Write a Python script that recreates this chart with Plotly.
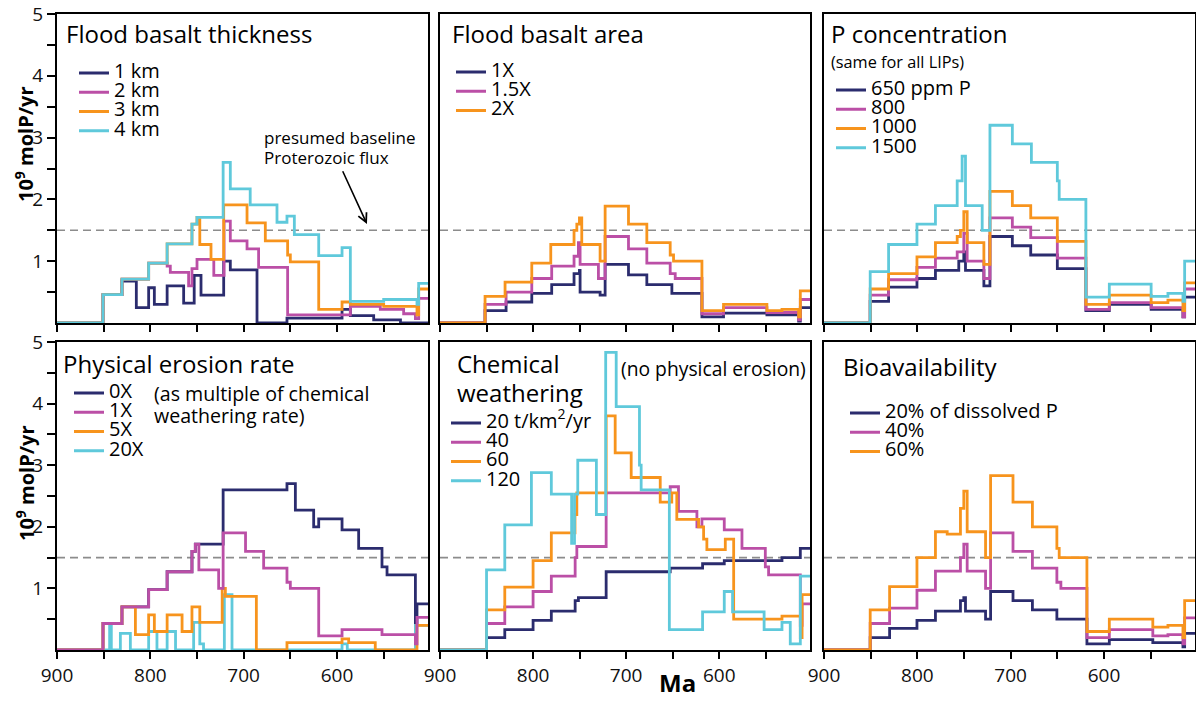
import plotly.graph_objects as go

# ---------------- data (Ma breakpoints, step values in 10^9 molP/yr) ----------------
BASELINE_FLUX = 1.5

# Panel 1: Flood basalt thickness
THK_LABELS = ["1 km", "2 km", "3 km", "4 km"]
THK_1_MA = [900, 850.7, 830.4, 815, 801.8, 795.7, 782, 764.3, 753, 745.7, 721.4, 714.3, 685.7, 653.6, 594.6, 585.7, 560.7, 532, 502.5]
THK_1_V = [0, 0.46, 0.68, 0.25, 0.57, 0.3, 0.6, 0.32, 0.77, 0.45, 1.0, 0.86, 0, 0.08, 0.22, 0.12, 0.05, 0, 0]
THK_2_MA = [900, 850.7, 830.4, 801.8, 782, 778.6, 759, 755.4, 750, 732, 721, 714.3, 696.4, 684, 652.9, 585.7, 553.6, 528.6, 516, 512.5, 502.5]
THK_2_V = [0, 0.46, 0.71, 0.97, 0.92, 0.82, 0.6, 0.88, 1.03, 0.77, 1.65, 1.33, 1.2, 0.9, 0.13, 0.27, 0.22, 0.15, 0.07, 0.4, 0.4]
THK_3_MA = [900, 850.7, 830.4, 801.8, 782, 755.4, 750, 747, 735, 721.4, 696.4, 676.8, 652.9, 650, 619.6, 594.6, 585.7, 550, 514.3, 512.5, 502.5]
THK_3_V = [0, 0.46, 0.71, 0.97, 1.28, 1.6, 1.71, 1.27, 1.03, 1.91, 1.62, 1.33, 1.1, 0.99, 0.22, 0.34, 0.3, 0.27, 0.13, 0.55, 0.55]
THK_4_MA = [900, 850.7, 830.4, 801.8, 782, 755.4, 750, 722, 714.3, 693, 664.3, 653.6, 645.7, 619.6, 594.6, 585.7, 550, 514.3, 512.5, 502.5]
THK_4_V = [0, 0.46, 0.71, 0.97, 1.28, 1.6, 1.71, 2.6, 2.17, 1.91, 1.63, 1.73, 1.43, 1.09, 1.22, 0.35, 0.38, 0.3, 0.64, 0.64]

# Panel 2: Flood basalt area
AREA_LABELS = ["1X", "1.5X", "2X"]
AREA_1_MA = [900, 851.6, 829, 801.4, 780, 756, 750.2, 749.5, 728, 722.6, 697.5, 677.8, 650.9, 618.6, 595.4, 548.8, 514.7, 512.9, 502.5]
AREA_1_V = [0, 0.2, 0.34, 0.48, 0.62, 0.8, 0.85, 0.5, 0.45, 0.95, 0.78, 0.62, 0.48, 0.1, 0.16, 0.13, 0.03, 0.25, 0.25]
AREA_15_MA = [900, 851.6, 829, 801.4, 780, 756, 751.3, 749.5, 729.8, 722.6, 697.5, 677.8, 652.7, 647.3, 618.6, 595.4, 548.8, 514.7, 512.9, 502.5]
AREA_15_V = [0, 0.3, 0.5, 0.72, 0.92, 1.08, 1.3, 0.95, 0.72, 1.4, 1.2, 0.97, 0.8, 0.72, 0.15, 0.25, 0.17, 0.05, 0.38, 0.38]
AREA_2_MA = [900, 851.6, 830.1, 801.4, 781, 756, 753, 750.2, 747.7, 728, 722.6, 697.5, 677.8, 652.7, 649.1, 618.6, 595.4, 548.8, 532.6, 514.7, 512.9, 502.5]
AREA_2_V = [0, 0.43, 0.66, 0.97, 1.27, 1.5, 1.6, 1.7, 1.27, 1.0, 1.89, 1.6, 1.3, 1.1, 1.0, 0.2, 0.3, 0.2, 0.22, 0.1, 0.52, 0.52]

# Panel 3: P concentration
PC_LABELS = ["650 ppm P", "800", "1000", "1500"]
PC_650_MA = [900, 850.5, 830.8, 800.4, 780.6, 755.6, 750.2, 748.4, 728.7, 722.2, 698.2, 678.5, 650, 619.4, 594.3, 549.5, 515.4, 513.6, 502.5]
PC_650_V = [0, 0.35, 0.58, 0.72, 0.85, 1.0, 1.15, 0.85, 0.6, 1.4, 1.25, 1.1, 0.88, 0.2, 0.3, 0.22, 0.1, 0.42, 0.42]
PC_800_MA = [900, 850.5, 830.8, 800.4, 780.6, 757.3, 750.2, 746.6, 728.7, 722.2, 698.2, 678.5, 650, 619.4, 594.3, 549.5, 515.4, 513.6, 502.5]
PC_800_V = [0, 0.45, 0.7, 0.9, 1.05, 1.15, 1.45, 1.0, 0.72, 1.7, 1.55, 1.38, 1.05, 0.22, 0.33, 0.25, 0.1, 0.55, 0.55]
PC_1000_MA = [900, 850.5, 830.8, 800.4, 780.6, 757.3, 753.8, 750.2, 746.6, 728.7, 722.2, 698.2, 678.5, 650, 619.4, 594.3, 549.5, 531.5, 515.4, 513.6, 502.5]
PC_1000_V = [0, 0.55, 0.8, 1.07, 1.3, 1.4, 1.5, 1.8, 1.3, 0.95, 2.13, 1.9, 1.7, 1.32, 0.3, 0.45, 0.33, 0.37, 0.2, 0.65, 0.65]
PC_1500_MA = [900, 850.5, 830.8, 800.4, 780.6, 757.3, 752, 748.4, 730.5, 722.2, 698.2, 677.8, 650, 648, 619.4, 594.3, 549.5, 531.5, 515.4, 513.6, 502.5]
PC_1500_V = [0, 0.83, 1.27, 1.6, 1.9, 2.3, 2.7, 1.9, 1.5, 3.2, 2.9, 2.6, 2.3, 2.0, 0.42, 0.63, 0.43, 0.48, 0.35, 1.0, 1.0]

# Panel 4: Physical erosion rate
PE_LABELS = ["0X", "1X", "5X", "20X"]
PE_0_MA = [900, 850.7, 830.4, 801.8, 782, 755.4, 751.8, 722, 653.6, 644.6, 625, 619.6, 594.6, 576.8, 551.8, 546.4, 516, 514.3, 502.5]
PE_0_V = [0, 0.43, 0.7, 0.98, 1.27, 1.6, 1.72, 2.6, 2.7, 2.27, 2.0, 2.13, 1.95, 1.65, 1.35, 1.22, 0.4, 0.75, 0.75]
PE_1_MA = [900, 850.7, 830.4, 801.8, 782, 755.4, 751.8, 748, 726.8, 722, 698, 678.6, 653.6, 650, 619.6, 594.6, 551.8, 516, 514.3, 502.5]
PE_1_V = [0, 0.43, 0.7, 0.98, 1.27, 1.6, 1.72, 1.3, 1.0, 1.9, 1.6, 1.33, 1.1, 1.0, 0.23, 0.33, 0.25, 0.1, 0.53, 0.53]
PE_5_MA = [900, 850.7, 830.4, 816, 801.8, 795.7, 782, 766, 755.4, 747, 723, 719.6, 686.4, 653.6, 594.6, 587.5, 559, 514.3, 502.5]
PE_5_V = [0, 0.43, 0.7, 0.25, 0.57, 0.3, 0.57, 0.3, 0.7, 0.45, 1.0, 0.87, 0, 0.12, 0.18, 0.12, 0, 0.4, 0.4]
PE_20_MA = [900, 843.6, 841.8, 832.1, 821.4, 801.8, 792.9, 782, 773, 753.6, 747, 743, 720.7, 712.5, 594.6, 589, 516, 502.5]
PE_20_V = [0, 0.4, 0, 0.27, 0, 0.3, 0, 0.3, 0, 0.45, 0.1, 0, 0.9, 0, 0.1, 0, 0.4, 0.4]

# Panel 5: Chemical weathering
CW_LABELS = ["20 t/km<sup>2</sup>/yr", "40", "60", "120"]
CW_20_MA = [900, 850, 830.4, 800, 780.4, 754.8, 751.3, 721.5, 652.7, 617.9, 594.6, 532.6, 512.9, 502.5]
CW_20_V = [0, 0.2, 0.33, 0.48, 0.63, 0.8, 0.85, 1.27, 1.33, 1.4, 1.45, 1.5, 1.65, 1.65]
CW_40_MA = [900, 850, 830.4, 800, 780.4, 754.8, 753, 721.5, 652.7, 643.8, 624, 618.6, 594.6, 575.6, 550.5, 547, 512.9, 511, 502.5]
CW_40_V = [0, 0.43, 0.7, 0.95, 1.2, 1.5, 1.68, 2.55, 2.65, 2.25, 2.0, 2.13, 1.95, 1.65, 1.35, 1.22, 0.4, 0.75, 0.75]
CW_60_MA = [900, 850, 830.4, 800, 780.4, 755, 753, 721.5, 711.8, 694.6, 663.4, 651, 645.6, 622.2, 616.8, 613.3, 593.5, 584.5, 532.6, 512.9, 511, 502.5]
CW_60_V = [0, 0.65, 1.02, 1.45, 1.9, 2.2, 2.55, 3.8, 3.2, 2.8, 2.4, 2.55, 2.12, 2.0, 1.8, 1.63, 1.8, 0.5, 0.55, 0.2, 0.9, 0.9]
CW_120_MA = [900, 850, 830.4, 801.8, 780.4, 758.6, 755.5, 752, 732, 722, 710.7, 685.7, 683.9, 653.6, 617.9, 594.6, 585.7, 551.8, 532.6, 523.7, 512.9, 502.5]
CW_120_V = [0, 1.3, 2.03, 2.88, 2.53, 1.73, 2.53, 3.08, 2.2, 4.83, 3.95, 3.0, 2.6, 0.33, 0.62, 0.95, 0.62, 0.33, 0.45, 0.1, 1.2, 1.2]

# Panel 6: Bioavailability
BA_LABELS = ["20% of dissolved P", "40%", "60%"]
BA_20_MA = [900, 850.5, 829.7, 800.4, 780.6, 753.8, 750.2, 748.4, 726.9, 721.5, 697.5, 676.7, 650.5, 618.3, 594.3, 547.7, 515.4, 513.6, 502.5]
BA_20_V = [0, 0.2, 0.35, 0.48, 0.63, 0.8, 0.85, 0.63, 0.5, 0.95, 0.8, 0.65, 0.5, 0.1, 0.17, 0.12, 0.05, 0.27, 0.27]
BA_40_MA = [900, 850.5, 829.7, 800.4, 780.6, 753.8, 750.2, 746.6, 726.9, 721.5, 697.5, 676.7, 650.5, 646.2, 618.3, 594.3, 547.7, 531.5, 515.4, 513.6, 502.5]
BA_40_V = [0, 0.43, 0.68, 0.97, 1.28, 1.5, 1.72, 1.28, 1.0, 1.9, 1.6, 1.33, 1.1, 1.0, 0.2, 0.33, 0.23, 0.25, 0.1, 0.52, 0.52]
BA_60_MA = [900, 850.5, 829.7, 800.4, 780.6, 768, 753.8, 750.2, 746.6, 726.9, 721.5, 697.5, 676.7, 650.5, 648, 618.3, 594.3, 547.7, 531.5, 515.4, 513.6, 502.5]
BA_60_V = [0, 0.65, 1.03, 1.5, 1.92, 1.88, 2.3, 2.58, 1.92, 1.5, 2.83, 2.4, 2.0, 1.65, 1.5, 0.3, 0.5, 0.37, 0.4, 0.2, 0.8, 0.8]

X_TICKS = [900, 850, 800, 750, 700, 650, 600, 550]
X_TICK_TEXT = ["900", "", "800", "", "700", "", "600", ""]
Y_TICKS = [0.5, 1, 1.5, 2, 2.5, 3, 3.5, 4, 4.5, 5]
Y_TICK_TEXT = ["", "1", "", "2", "", "3", "", "4", "", "5"]

# ---------------- styling ----------------
W, H = 1196, 702
FONT = "Open Sans"
NAVY, MAGENTA, ORANGE, CYAN = "#2b2c6e", "#bb4fa6", "#f7941d", "#5fc9db"
COLORS = [NAVY, MAGENTA, ORANGE, CYAN]


def fx(px):
    return px / W


def fy(py):
    return 1 - py / H


# panel pixel boxes: (left, right) and (top, bottom)
COLS = [(57, 428), (440, 810), (824, 1195)]
ROWS = [(14, 323), (342, 650)]

panels = [
    dict(series=[(THK_1_MA, THK_1_V), (THK_2_MA, THK_2_V), (THK_3_MA, THK_3_V), (THK_4_MA, THK_4_V)],
         labels=THK_LABELS, order=[0, 1, 2, 3], legend_px=(79, 73)),
    dict(series=[(AREA_1_MA, AREA_1_V), (AREA_15_MA, AREA_15_V), (AREA_2_MA, AREA_2_V)],
         labels=AREA_LABELS, order=[0, 1, 2], legend_px=(456, 72)),
    dict(series=[(PC_650_MA, PC_650_V), (PC_800_MA, PC_800_V), (PC_1000_MA, PC_1000_V), (PC_1500_MA, PC_1500_V)],
         labels=PC_LABELS, order=[0, 1, 2, 3], legend_px=(836, 90)),
    dict(series=[(PE_0_MA, PE_0_V), (PE_1_MA, PE_1_V), (PE_5_MA, PE_5_V), (PE_20_MA, PE_20_V)],
         labels=PE_LABELS, order=[0, 3, 2, 1], legend_px=(74, 393)),
    dict(series=[(CW_20_MA, CW_20_V), (CW_40_MA, CW_40_V), (CW_60_MA, CW_60_V), (CW_120_MA, CW_120_V)],
         labels=CW_LABELS, order=[0, 1, 2, 3], legend_px=(451, 423)),
    dict(series=[(BA_20_MA, BA_20_V), (BA_40_MA, BA_40_V), (BA_60_MA, BA_60_V)],
         labels=BA_LABELS, order=[0, 1, 2], legend_px=(850, 413)),
]

LEG_FS = 12.5
LEG_ITEM_H = LEG_FS * 1.3 + 3

fig = go.Figure()
layout = dict(
    width=W, height=H,
    margin=dict(l=0, r=0, t=0, b=0, pad=0, autoexpand=False),
    paper_bgcolor="white", plot_bgcolor="white",
    font=dict(family=FONT, color="black", size=18),
    showlegend=True,
)
shapes = []
annotations = []

for i, p in enumerate(panels):
    r, c = divmod(i, 3)
    n = i + 1
    xa = "xaxis" if n == 1 else f"xaxis{n}"
    ya = "yaxis" if n == 1 else f"yaxis{n}"
    xr = "x" if n == 1 else f"x{n}"
    yr = "y" if n == 1 else f"y{n}"
    leg = "legend" if n == 1 else f"legend{n}"
    left, right = COLS[c]
    top, bottom = ROWS[r]
    layout[xa] = dict(
        domain=[fx(left), fx(right)], anchor=yr, range=[900, 502.5], automargin=False,
        tickmode="array", tickvals=X_TICKS,
        ticktext=X_TICK_TEXT if r == 1 else [""] * len(X_TICKS),
        ticks="outside", ticklen=7, tickwidth=2, tickcolor="black",
        showline=True, linewidth=2, linecolor="black", mirror=True,
        showgrid=False, zeroline=False,
        tickfont=dict(size=19, family=FONT, color="#111"),
    )
    layout[ya] = dict(
        domain=[fy(bottom), fy(top)], anchor=xr, range=[0, 5], automargin=False,
        tickmode="array", tickvals=Y_TICKS,
        ticktext=Y_TICK_TEXT if c == 0 else [""] * len(Y_TICKS),
        ticks="outside" if c == 0 else "", ticklen=8, tickwidth=2, tickcolor="black",
        showline=True, linewidth=2, linecolor="black", mirror=True,
        showgrid=False, zeroline=False,
        tickfont=dict(size=19, family=FONT, color="#111"),
    )
    lx, ly = p["legend_px"]
    layout[leg] = dict(
        x=fx(lx - 5), y=fy(ly - 5 - LEG_ITEM_H / 2), xanchor="left", yanchor="top",
        bgcolor="rgba(0,0,0,0)", borderwidth=0, traceorder="normal",
        font=dict(size=LEG_FS, family=FONT, color="black"), itemwidth=30,
        itemclick=False, itemdoubleclick=False,
    )
    for k in p["order"]:
        ma, v = p["series"][k]
        fig.add_trace(go.Scatter(
            x=ma, y=v, mode="lines", line=dict(color=COLORS[k], width=2.8, shape="hv"),
            name=f'<span style="font-size:20px">{p["labels"][k]}</span>',
            legend=leg, legendrank=k + 1, xaxis=xr, yaxis=yr, hoverinfo="skip",
        ))
    shapes.append(dict(
        type="line", xref=f"{xr} domain", yref=yr, x0=0, x1=1,
        y0=BASELINE_FLUX, y1=BASELINE_FLUX, layer="below",
        line=dict(color="#8c8c8c", width=1.6, dash="8px,5px"),
    ))


def txt(text, px, py, size, bold=False, xanchor="left", yanchor="middle"):
    annotations.append(dict(
        text=f"<b>{text}</b>" if bold else text, x=fx(px), y=fy(py), xref="paper", yref="paper",
        xanchor=xanchor, yanchor=yanchor, showarrow=False,
        font=dict(size=size, family=FONT, color="black"),
    ))


TITLE_FS = 24
txt("Flood basalt thickness", 64, 34, TITLE_FS)
txt("Flood basalt area", 450, 34, TITLE_FS)
txt("P concentration", 829, 34, TITLE_FS)
txt("(same for all LIPs)", 829, 62, 16.3)
txt("Physical erosion rate", 61, 363, TITLE_FS)
txt("(as multiple of chemical", 152, 393, 19.6)
txt("weathering rate)", 152, 415, 19.6)
txt("Chemical", 455, 363, TITLE_FS)
txt("weathering", 455, 392, TITLE_FS)
txt("(no physical erosion)", 619, 368, 19.3)
txt("Bioavailability", 841, 367, TITLE_FS)
txt("presumed baseline", 262, 138, 17)
txt("Proterozoic flux", 262, 157, 17)
txt("Ma", 677, 701, 24, bold=True, xanchor="center", yanchor="bottom")

for cy in (144, 483):
    annotations.append(dict(
        text="<b>10<sup>9</sup> molP/yr</b>", x=fx(25), y=fy(cy), xref="paper", yref="paper",
        xanchor="center", yanchor="middle", textangle=-90, showarrow=False,
        font=dict(size=20, family=FONT, color="black"),
    ))

# arrow pointing at the baseline flux line (panel 1)
annotations.append(dict(
    x=567.9, y=1.6, ax=594.6, ay=2.48, xref="x", yref="y", axref="x", ayref="y",
    text="", showarrow=True, arrowhead=5, arrowsize=1.1, arrowwidth=1.6, arrowcolor="black",
))

layout["shapes"] = shapes
layout["annotations"] = annotations
fig.update_layout(**layout)
fig.write_html(
    "out.html",
    config={"displayModeBar": False},
    post_script="document.body.style.margin='0';document.body.style.overflow='hidden';",
)
